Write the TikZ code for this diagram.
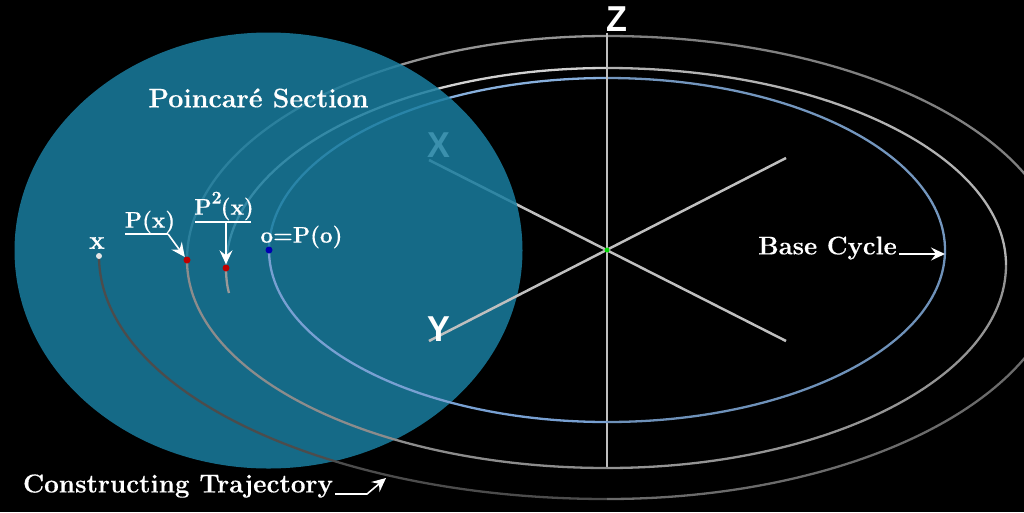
\documentclass[tikz,border=0pt]{standalone}
\usepackage{fontspec}
\newfontfamily\axisfont{Liberation Sans}
\newfontfamily\labfont[BoldFeatures={FakeBold=0.35}]{Latin Modern Roman}
\usetikzlibrary{arrows.meta,shapes.geometric}
\definecolor{discc}{RGB}{25,125,159}
\tikzset{
  x=1pt,y=-1pt,
  traj/.style={line width=2.3pt},
  base/.style={line width=2.3pt},
  axisline/.style={line width=2.5pt,color=black!25!white},
  axislabel/.style={text=white,inner sep=0pt,xscale=.95,font=\axisfont\bfseries\fontsize{36}{36}\selectfont},
  lab/.style={text=white,inner sep=0pt,font=\labfont\bfseries\fontsize{22.5}{23}\selectfont},
  biglab/.style={text=white,inner sep=0pt,font=\labfont\bfseries\fontsize{26}{26}\selectfont},
  pointer/.style={white,line width=1.6pt,-{Stealth[inset=5pt,length=14pt,width=13pt]}},
  rule/.style={white,line width=1.6pt},
  dot/.style={circle,inner sep=0pt,minimum size=7pt,draw=none}
}
\begin{document}
\begin{tikzpicture}
\useasboundingbox (0,0) rectangle (1024,512);
\fill[black] (0,0) rectangle (1024,512);
% named coordinates
\coordinate (L1) at (99,256); \coordinate (B1) at (607,499); \coordinate (R1) at (1062,265); \coordinate (T1) at (607,36);
\coordinate (L2) at (187,260); \coordinate (B2) at (607,468); \coordinate (R2) at (1006,265); \coordinate (T2) at (607,68);
\coordinate (L3) at (226,268); \coordinate (E3) at (229,293);
\coordinate (BL) at (269,250); \coordinate (BB) at (607,422); \coordinate (BR) at (945,250); \coordinate (BT) at (607,78);
\coordinate (ZT) at (607,33); \coordinate (ZB) at (607,468);
\coordinate (XA) at (429,160); \coordinate (XB) at (786,341);
\coordinate (YA) at (429,341); \coordinate (YB) at (786,158);
% behind the section
\draw[traj,color=black!50!white] (R1) .. controls (1062,138.5) and (858.3,36) .. (T1);
\draw[traj,color=black!42!white] (T1) .. controls (375,36) and (187,136.3) .. (L2);
\draw[traj,color=black!30!white] (R2) .. controls (1006,156.2) and (827.4,68) .. (T2);
\draw[traj,color=black!18!white] (T2) .. controls (396.6,68) and (226,157.5) .. (L3);
\draw[base,color={rgb,255:red,115;green,150;blue,190}] (BR) .. controls (945,155) and (793.7,78) .. (BT);
\draw[base,color={rgb,255:red,135;green,175;blue,220}] (BT) .. controls (420.3,78) and (269,155) .. (BL);
\draw[axisline] (XA) -- (XB);
\draw[axisline] (ZT) -- (ZB);
\node[axislabel] (xaxis) at (438.5,145.5) {X};
% Poincare section
\node[ellipse,fill=discc,fill opacity=.85,minimum width=508pt,minimum height=436pt,inner sep=0pt,draw=none] (section) at (268.5,250.5) {};
% in front of the section
\draw[axisline] (YA) -- (YB);
\draw[traj,color=black!70!white] (L1) .. controls (99,390.2) and (326.4,499) .. (B1);
\draw[traj,color=black!58!white] (B1) .. controls (858.3,499) and (1062,394.2) .. (R1);
\draw[traj,color=black!45!white] (L2) .. controls (187,374.9) and (375,468) .. (B2);
\draw[traj,color=black!42!white] (B2) .. controls (827.4,468) and (1006,377.1) .. (R2);
\draw[traj,color=black!40!white] (L3) .. controls (226,277) and (227,286) .. (E3);
\draw[base,color={rgb,255:red,120;green,160;blue,210}] (BL) .. controls (269,345) and (420.3,422) .. (BB);
\draw[base,color={rgb,255:red,110;green,145;blue,185}] (BB) .. controls (793.7,422) and (945,345) .. (BR);
% points
\node[dot,fill=black!10!white,minimum size=6pt] (px) at (L1) {};
\node[dot,fill=red!75!black] (ppx) at (L2) {};
\node[dot,fill=red!75!black] (pppx) at (L3) {};
\node[dot,fill=blue!70!black] (po) at (BL) {};
\node[dot,fill=green!85!black,minimum size=5pt] (origin) at (607,250) {};
% labels
\node[axislabel] (zaxis) at (616.5,19) {Z};
\node[axislabel] (yaxis) at (439,329) {Y};
\node[biglab,font=\labfont\bfseries\fontsize{26.8}{27}\selectfont] (title) at (258.5,98) {Poincar\'e Section};
\node[lab,font=\labfont\bfseries\fontsize{26}{26}\selectfont] (lx) at (97,243) {x};
\node[lab] (lp) at (150,222) {P(x)};
\node[lab] (lpp) at (224,206) {P\raisebox{11pt}{\fontsize{18}{18}\selectfont 2}\kern-1pt(x)};
\node[lab] (lo) at (301.5,237) {o=P(o)};
\node[biglab,font=\labfont\bfseries\fontsize{25.6}{26}\selectfont] (lb) at (827.5,248) {Base Cycle};
\node[biglab] (lc) at (178,486) {Constructing Trajectory};
% pointers
\coordinate (u1a) at (125,234); \coordinate (u1b) at (168,234);
\coordinate (u2a) at (195,222); \coordinate (u2b) at (251,222); \coordinate (u2c) at (226,222);
\coordinate (b1) at (899,254); \coordinate (b2) at (945,254);
\coordinate (c1) at (335,494); \coordinate (c2) at (367,494); \coordinate (c3) at (386,478);
\draw[rule] (u1a) -- (u1b);
\draw[pointer] (u1b) -- (ppx);
\draw[rule] (u2a) -- (u2b);
\draw[pointer] (u2c) -- (pppx);
\draw[pointer] (b1) -- (b2);
\draw[pointer] (c1) -- (c2) -- (c3);
\end{tikzpicture}
\end{document}
